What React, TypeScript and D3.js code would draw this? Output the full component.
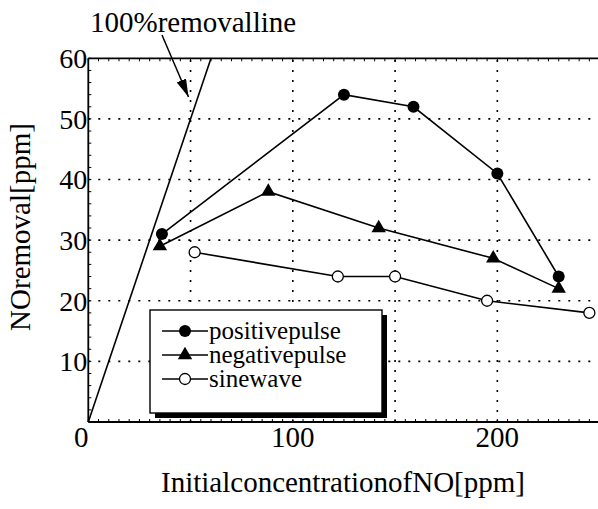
import React from "react";
import * as d3 from "d3";

// Series: NO removal [ppm] vs initial NO concentration [ppm]
const positiveX = [36, 125, 159, 200, 230];
const positiveY = [31, 54, 52, 41, 24];
const negativeX = [35, 88, 142, 198, 230];
const negativeY = [29, 38, 32, 27, 22];
const sineX = [52, 122, 150, 195, 245];
const sineY = [28, 24, 24, 20, 18];

const xTickLabels = [0, 100, 200];
const yTickLabels = [10, 20, 30, 40, 50, 60];
const xGrid = [50, 100, 150, 200];
const yGrid = [10, 20, 30, 40, 50];
const removalLine = [0, 60]; // 100% removal: y = x

const legendLabels = ["positivepulse", "negativepulse", "sinewave"];

const W = 598;
const H = 509;
const FONT = '"Liberation Serif", "Times New Roman", Times, serif';

export default function App() {
  const x = d3.scaleLinear().domain([0, 250]).range([88.3, 599.6]);
  const y = d3.scaleLinear().domain([0, 60]).range([422, 58.3]);

  const line = d3
    .line<[number, number]>()
    .x((d) => x(d[0]))
    .y((d) => y(d[1]));

  const pos: [number, number][] = positiveX.map((v, i) => [v, positiveY[i]]);
  const neg: [number, number][] = negativeX.map((v, i) => [v, negativeY[i]]);
  const sin: [number, number][] = sineX.map((v, i) => [v, sineY[i]]);

  const tri = d3.symbol().type(d3.symbolTriangle).size(90)() as string;
  const xMinor = d3.range(0, 251, 5);
  const yMinor = d3.range(0, 61, 2);

  const [x0, x1] = x.range();
  const [yb, yt] = y.range();

  const legendX = 150;
  const legendY = 310;
  const legendW = 232;
  const legendH = 103;
  const rowY = [331, 355, 379];

  const txt = { fontFamily: FONT };

  return (
    <svg
      width={W}
      height={H}
      style={{ position: "fixed", left: 0, top: 0, background: "#fff" }}
    >
      <rect width={W} height={H} fill="#fff" />

      {/* dotted grid */}
      {yGrid.map((v) => (
        <line
          key={"gy" + v}
          x1={x0}
          x2={x1}
          y1={y(v)}
          y2={y(v)}
          stroke="#000"
          strokeWidth={1.6}
          strokeDasharray="2,8"
        />
      ))}
      {xGrid.map((v) => (
        <line
          key={"gx" + v}
          x1={x(v)}
          x2={x(v)}
          y1={yb}
          y2={yt}
          stroke="#000"
          strokeWidth={1.6}
          strokeDasharray="2,8"
        />
      ))}

      {/* minor ticks */}
      {xMinor.map((v) => (
        <g key={"mx" + v}>
          <line x1={x(v)} x2={x(v)} y1={yb} y2={yb - 3} stroke="#000" strokeWidth={1} />
          <line x1={x(v)} x2={x(v)} y1={yt} y2={yt + 3} stroke="#000" strokeWidth={1} />
        </g>
      ))}
      {yMinor.map((v) => (
        <line key={"my" + v} x1={x0} x2={x0 + 3} y1={y(v)} y2={y(v)} stroke="#000" strokeWidth={1} />
      ))}

      {/* frame */}
      <line x1={x0} x2={x1} y1={yb} y2={yb} stroke="#000" strokeWidth={1.8} />
      <line x1={x0} x2={x1} y1={yt} y2={yt} stroke="#000" strokeWidth={1.8} />
      <line x1={x0} x2={x0} y1={yb} y2={yt} stroke="#000" strokeWidth={1.8} />

      {/* 100% removal line */}
      <line
        x1={x(removalLine[0])}
        y1={y(removalLine[0])}
        x2={x(removalLine[1])}
        y2={y(removalLine[1])}
        stroke="#000"
        strokeWidth={1.6}
      />

      {/* tick labels */}
      {yTickLabels.map((v) => (
        <text
          key={"yl" + v}
          x={x0 - 1}
          y={y(v)}
          dy="0.35em"
          textAnchor="end"
          fontSize={28}
          style={txt}
        >
          {v}
        </text>
      ))}
      {xTickLabels.map((v) => (
        <text
          key={"xl" + v}
          x={v === 0 ? x(v) - 7 : x(v)}
          y={yb + 25}
          textAnchor="middle"
          fontSize={29}
          style={txt}
        >
          {v}
        </text>
      ))}

      {/* series */}
      <path d={line(sin) as string} fill="none" stroke="#000" strokeWidth={1.6} />
      <path d={line(neg) as string} fill="none" stroke="#000" strokeWidth={1.6} />
      <path d={line(pos) as string} fill="none" stroke="#000" strokeWidth={1.6} />
      {sin.map((d, i) => (
        <circle key={"s" + i} cx={x(d[0])} cy={y(d[1])} r={5.5} fill="#fff" stroke="#000" strokeWidth={1.3} />
      ))}
      {neg.map((d, i) => (
        <path key={"n" + i} d={tri} transform={`translate(${x(d[0])},${y(d[1])})`} fill="#000" />
      ))}
      {pos.map((d, i) => (
        <circle key={"p" + i} cx={x(d[0])} cy={y(d[1])} r={6} fill="#000" />
      ))}

      {/* annotation */}
      <text x={90} y={32} fontSize={29} style={txt}>
        100%removalline
      </text>
      <defs>
        <marker
          id="arrowHead"
          viewBox="0 0 18 10"
          refX={18}
          refY={5}
          markerWidth={18}
          markerHeight={10}
          markerUnits="userSpaceOnUse"
          orient="auto"
        >
          <path d="M0,0 L18,5 L0,10 Z" fill="#000" />
        </marker>
      </defs>
      <line
        x1={162}
        y1={35}
        x2={188.5}
        y2={97}
        stroke="#000"
        strokeWidth={1.5}
        markerEnd="url(#arrowHead)"
      />

      {/* legend */}
      <rect x={legendX + 5} y={legendY + 5} width={legendW} height={legendH} fill="#000" />
      <rect x={legendX} y={legendY} width={legendW} height={legendH} fill="#fff" stroke="#000" strokeWidth={1.4} />
      {legendLabels.map((label, i) => (
        <g key={label}>
          <line x1={162} x2={208} y1={rowY[i]} y2={rowY[i]} stroke="#000" strokeWidth={1.5} />
          {i === 0 && <circle cx={185} cy={rowY[i]} r={6} fill="#000" />}
          {i === 1 && <path d={tri} transform={`translate(185,${rowY[i]})`} fill="#000" />}
          {i === 2 && <circle cx={185} cy={rowY[i]} r={5.5} fill="#fff" stroke="#000" strokeWidth={1.3} />}
          <text x={209} y={rowY[i]} dy="0.33em" fontSize={25} style={txt}>
            {label}
          </text>
        </g>
      ))}

      {/* axis titles */}
      <text x={343} y={492} textAnchor="middle" fontSize={29} style={txt}>
        InitialconcentrationofNO[ppm]
      </text>
      <text
        transform={`translate(30,${227}) rotate(-90)`}
        textAnchor="middle"
        fontSize={29}
        style={txt}
      >
        NOremoval[ppm]
      </text>
    </svg>
  );
}
